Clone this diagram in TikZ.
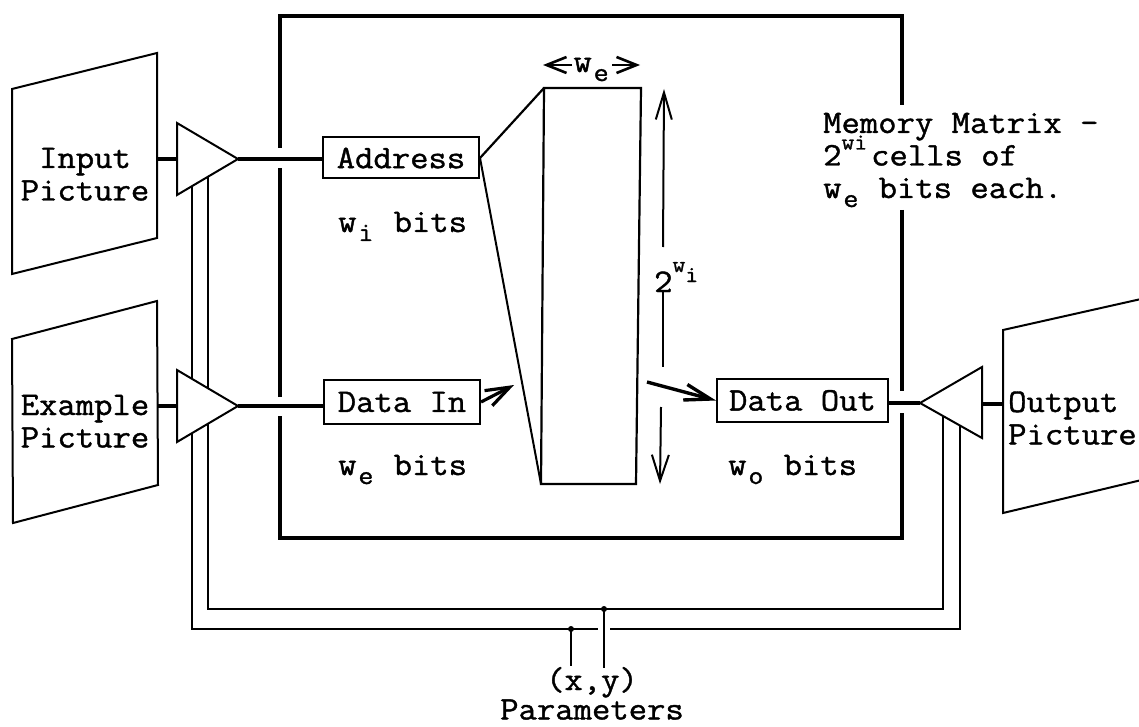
\documentclass[tikz,border=0pt]{standalone}
\usepackage{fontspec}
\setmonofont[FakeStretch=1.08,FakeBold=1.2]{Latin Modern Mono}
\usetikzlibrary{arrows.meta}
\newcommand\lo[1]{\raisebox{-9pt}[0pt][0pt]{\makebox[0.567em][c]{\fontsize{27}{27}\selectfont #1}}}
\newcommand\up[2]{\raisebox{#1}[0pt][0pt]{\fontsize{23}{23}\selectfont #2}}
\begin{document}
\begin{tikzpicture}[x=1pt,y=-1pt,
  thinln/.style={line width=2pt},
  thickln/.style={line width=3.4pt},
  box/.style={draw,line width=2pt,inner sep=0pt,font=\ttfamily\fontsize{33}{32.5}\selectfont},
  lbl/.style={inner sep=0pt,font=\ttfamily\fontsize{33}{32.5}\selectfont},
  tri/.style={draw,fill=white,line width=2pt,line join=miter}]
\useasboundingbox (0,0) rectangle (1139,727);
\clip (0,0) rectangle (1139,727);

% ---- frame of the memory unit (broken where wires / text pass)
\draw[thickln] (280,148) -- (280,16) -- (902,16) -- (902,105);
\draw[thickln] (902,210) -- (902,391);
\draw[thickln] (902,413) -- (902,538) -- (280,538) -- (280,416);
\draw[thickln] (280,397) -- (280,168);

% ---- pictures
\coordinate (ip1) at (12,89);   \coordinate (ip2) at (157,53);
\coordinate (ip3) at (157,238); \coordinate (ip4) at (12,274);
\draw[thinln] (ip1)--(ip2)--(ip3)--(ip4)--cycle;
\node[lbl,anchor=base] (iptxt) at (85,168) {\begin{tabular}[t]{@{}c@{}}Input\\Picture\end{tabular}};

\coordinate (ep1) at (12,339);  \coordinate (ep2) at (157,301);
\coordinate (ep3) at (158,485); \coordinate (ep4) at (13,523);
\draw[thinln] (ep1)--(ep2)--(ep3)--(ep4)--cycle;
\node[lbl,anchor=base] (eptxt) at (85,415) {\begin{tabular}[t]{@{}c@{}}Example\\Picture\end{tabular}};

\coordinate (op1) at (1003,330); \coordinate (op2) at (1150,297);
\coordinate (op3) at (1150,478); \coordinate (op4) at (1003,513);
\draw[thinln] (op1)--(op2)--(op3)--(op4)--cycle;
\node[lbl,anchor=base west] (optxt) at (1008,412) {\begin{tabular}[t]{@{}l@{}}Output\\Picture\end{tabular}};

% ---- parameter buses (under the amplifiers)
\coordinate (b1s) at (208,165); \coordinate (b1c1) at (208,609);
\coordinate (b1c2) at (943,609); \coordinate (b1e) at (943,405);
\draw[thinln] (b1s) -- (b1c1) -- (b1c2) -- (b1e);
\coordinate (b2s) at (192,170); \coordinate (b2c1) at (192,629);
\coordinate (b2g1) at (598,629); \coordinate (b2g2) at (610,629);
\coordinate (b2c2) at (960,629); \coordinate (b2e) at (960,405);
\draw[thinln] (b2s) -- (b2c1) -- (b2g1);
\draw[thinln] (b2g2) -- (b2c2) -- (b2e);

\coordinate (pd1) at (571,629); \coordinate (pe1) at (571,666);
\coordinate (pd2) at (604,609); \coordinate (pe2) at (604,668);
\fill (pd1) circle (3pt);
\fill (pd2) circle (3pt);
\draw[thinln] (pd1) -- (pe1);
\draw[thinln] (pd2) -- (pe2);
\node[lbl,anchor=base] (par) at (592,690) {\begin{tabular}[t]{@{}c@{}}(x,y)\\[-3pt]Parameters\end{tabular}};

% ---- amplifiers
\coordinate (t1a) at (177,123); \coordinate (t1b) at (177,195); \coordinate (t1tip) at (238,159);
\draw[tri] (t1a) -- (t1tip) -- (t1b) -- cycle;
\coordinate (t2a) at (177,370); \coordinate (t2b) at (177,442); \coordinate (t2tip) at (238,406);
\draw[tri] (t2a) -- (t2tip) -- (t2b) -- cycle;
\coordinate (t3a) at (982,367); \coordinate (t3b) at (982,438); \coordinate (t3tip) at (920,403);
\draw[tri] (t3a) -- (t3tip) -- (t3b) -- cycle;

% ---- registers
\node[box,minimum width=156pt,minimum height=41pt] (addr) at (401,158) {Address};
\node[box,minimum width=156pt,minimum height=44pt] (din) at (402,402) {Data In};
\node[box,minimum width=171pt,minimum height=43pt] (dout) at (802.5,400.5) {Data Out};

% ---- wires
\coordinate (ipw) at (157,159); \coordinate (t1w) at (177,159);
\draw[thickln] (ipw) -- (t1w);
\draw[thickln] (t1tip) -- (t1tip -| addr.west);
\coordinate (epw) at (157,406); \coordinate (t2w) at (177,406);
\draw[thickln] (epw) -- (t2w);
\draw[thickln] (t2tip) -- (t2tip -| din.west);
\draw[thickln] (t3tip -| dout.east) -- (t3tip);
\coordinate (t3w) at (982,404); \coordinate (opw) at (1003,404);
\draw[thickln] (t3w) -- (opw);

% ---- memory matrix column
\coordinate (m1) at (544,88);  \coordinate (m2) at (641,88);
\coordinate (m3) at (636,484); \coordinate (m4) at (541,484);
\draw[line width=2.2pt] (m1) -- (m2) -- (m3) -- (m4) -- cycle;
\draw[line width=2.2pt] (addr.east) -- (m1);
\draw[line width=2pt] (addr.east) -- (m4);

\coordinate (dintip) at (514,385);
\draw[line width=3.2pt,-{Straight Barb[length=24pt,width=17pt]}] (din.east) -- (dintip);
\coordinate (dostart) at (647,382);
\draw[line width=3.4pt,-{Straight Barb[length=26pt,width=16pt]}] (dostart) -- (dout.west);

% ---- dimension of the column
\coordinate (dtop) at (664,89); \coordinate (d1) at (663,247);
\coordinate (d2) at (663,292); \coordinate (d3) at (663,367);
\coordinate (d4) at (661,407); \coordinate (dbot) at (660,484);
\draw[thinln,{Straight Barb[length=27pt,width=16pt]}-] (dtop) -- (d1);
\draw[thinln] (d2) -- (d3);
\draw[thinln,-{Straight Barb[length=26pt,width=17pt]}] (d4) -- (dbot);
\node[lbl,anchor=base west] (dim) at (654,292) {2\up{20pt}{w}\up{10pt}{i}};

\coordinate (wl1) at (572,65); \coordinate (wl2) at (543,65);
\coordinate (wr1) at (612,65); \coordinate (wr2) at (640,65);
\draw[line width=2.6pt,-{Straight Barb[length=20pt,width=16pt]}] (wl1) -- (wl2);
\draw[line width=2.6pt,-{Straight Barb[length=20pt,width=16pt]}] (wr1) -- (wr2);
\node[lbl,anchor=base] (wetop) at (592,72) {w\lo{e}};

% ---- bit-width labels
\node[lbl,anchor=base west] (wi) at (338,232) {w\lo{i} bits};
\node[lbl,anchor=base west] (we) at (338,475) {w\lo{e} bits};
\node[lbl,anchor=base west] (wo) at (728,475) {w\lo{o} bits};

\node[lbl,anchor=base west] (mem) at (823,133) {\begin{tabular}[t]{@{}l@{}}Memory Matrix -\\2\up{16pt}{w}\up{16pt}{i}\hspace{4pt}cells of\\w\lo{e} bits each.\end{tabular}};
\end{tikzpicture}
\end{document}
